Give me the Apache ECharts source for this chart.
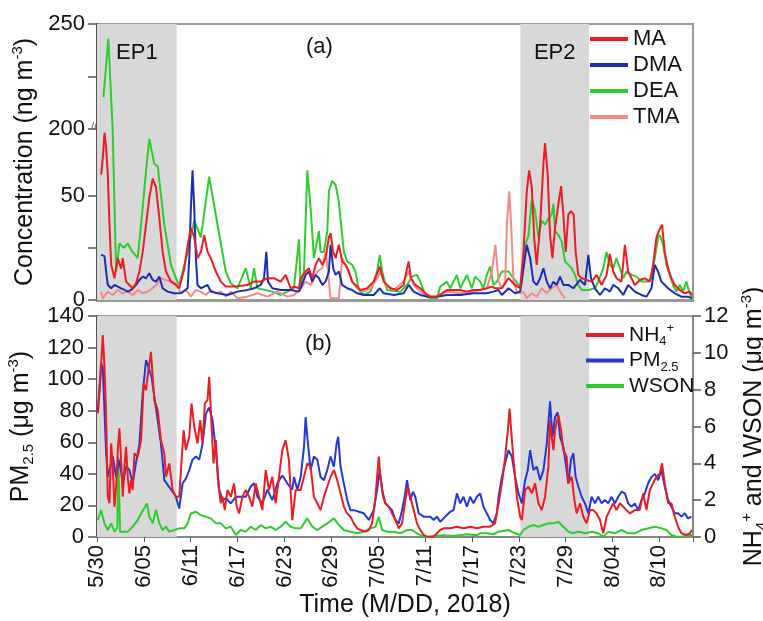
<!DOCTYPE html>
<html><head><meta charset="utf-8">
<script src="https://cdn.jsdelivr.net/npm/echarts@6/dist/echarts.min.js"></script>
<style>html,body{margin:0;padding:0;background:#fff}#c{width:763px;height:621px}</style>
</head><body><div id="c"></div>
<script>
// x values are days since 5/30/2018 00:00
const tickLabels = ['5/30','6/05','6/11','6/17','6/23','6/29','7/05','7/11','7/17','7/23','7/29','8/04','8/10'];
const epNames = ['EP1','EP2'];
const epStart = [0, 54.2];
const epEnd = [10.2, 63.0];

// Panel (a): amines, ng m-3
const MA = [[0.53,60],[0.74,68],[0.96,80],[1.17,73],[1.38,60],[1.6,36],[1.81,17],[2.23,10.4],[2.66,20],[3.09,15],[3.3,20],[3.72,8.8],[4.15,7.2],[4.57,5.6],[5.0,8],[5.43,13.6],[5.85,23],[6.28,36],[6.7,49],[7.13,58],[7.55,54],[7.98,39],[8.4,23],[8.83,13.6],[9.47,8.8],[10.1,7.2],[10.53,5.6],[11.17,15],[11.6,26],[12.02,34.5],[12.45,30],[12.87,20],[13.3,23],[13.72,31],[14.15,23],[14.57,20],[15.21,13.6],[15.85,8.8],[16.49,6.4],[17.55,6.4],[19.26,7.2],[20.1,8.8],[20.96,8.8],[21.81,10.4],[22.66,10.4],[23.51,8.8],[24.15,12],[24.79,5.6],[25.21,6.4],[25.85,5.6],[26.07,10.4],[26.71,13.6],[27.13,15.2],[27.56,10.4],[27.99,16.8],[28.41,20],[28.84,16.8],[29.26,20],[29.69,30],[29.9,32],[30.24,23],[30.54,20],[30.96,26.4],[31.39,18.4],[31.82,16.8],[32.24,13.6],[32.67,8.8],[33.09,7.2],[33.73,4.8],[34.58,5.6],[35.43,8.8],[36.2,16],[36.71,8.8],[37.56,5.6],[38.41,4.8],[39.26,7.2],[39.69,15.2],[39.9,18.4],[40.2,10.4],[40.75,7.2],[41.39,5.6],[42.03,3.2],[42.67,1.6],[43.52,1.6],[44.16,3.2],[44.79,4.8],[45.65,4.8],[46.5,4.8],[47.35,4],[48.2,4.8],[49.05,4.8],[49.9,5.6],[50.56,6.4],[50.98,5.6],[51.83,5.6],[52.68,10.4],[53.53,7.2],[54.17,5.6],[54.6,23],[55.02,52],[55.32,62],[55.66,54],[56.0,28],[56.3,16.8],[56.73,36],[57.15,65],[57.36,75],[57.7,60],[58.0,31],[58.3,20],[58.64,34.5],[59.07,46],[59.41,54.5],[59.7,41],[60.0,23],[60.34,41],[60.68,42.5],[61.02,41],[61.28,23],[61.62,12],[62.05,10.4],[62.68,9.6],[63.32,8.8],[63.96,12],[64.6,7.2],[65.24,12],[65.66,22],[66.09,13.6],[66.51,10.4],[67.15,8.8],[67.58,26.4],[68.0,13.6],[68.43,10.4],[68.85,7.2],[69.49,9.6],[70.13,10.4],[70.77,8.8],[71.19,16.8],[71.62,30],[72.05,34],[72.34,36],[72.68,23],[73.11,15.2],[73.53,10.4],[73.96,7.2],[74.6,4.8],[75.24,3.2],[75.87,4],[76.17,2.4]];
const DMA = [[0.53,21.6],[0.96,21],[1.17,13.6],[1.38,7.2],[1.81,5.6],[2.23,7.2],[2.66,6.4],[3.09,5.6],[3.51,4.8],[3.94,4],[4.36,4.8],[5.0,7.2],[5.43,9.6],[5.85,11.2],[6.28,10.4],[6.7,12.8],[7.13,9.6],[7.55,8.8],[7.98,11.2],[8.4,5.6],[9.04,4],[9.89,3.2],[10.74,3.2],[11.6,5.6],[11.81,20],[12.02,44],[12.23,62],[12.45,44],[12.66,20],[12.87,7.2],[13.3,5.6],[14.15,7.2],[14.57,4],[15.43,3.2],[16.7,2.4],[17.98,4],[19.26,4.8],[20.1,5.6],[20.96,7.2],[21.38,10.4],[21.68,23],[21.89,8.8],[22.45,5.6],[23.51,4.8],[24.79,4.8],[25.85,4],[26.07,5.6],[26.71,12],[27.13,13.6],[27.56,8.8],[27.99,12],[28.41,10.4],[28.84,7.2],[29.26,8.8],[29.69,13.6],[29.9,26.4],[30.24,15.2],[30.54,12],[30.96,13.6],[31.39,7.2],[32.03,5.6],[32.67,4.8],[33.3,3.2],[34.16,2.4],[35.43,2.4],[36.2,5.6],[36.71,3.2],[37.99,2.4],[39.26,3.2],[39.9,7.2],[40.54,4],[41.39,2.4],[42.24,1.6],[43.52,1.6],[44.79,2.4],[46.5,2.4],[48.2,3.2],[49.9,3.2],[50.75,4],[51.39,4.8],[51.83,2.4],[52.68,5.6],[53.53,3.2],[54.17,4],[54.6,15.2],[55.02,26.4],[55.45,20],[55.87,8.8],[56.3,7.2],[56.73,10.4],[57.15,15.2],[57.58,8.8],[58.0,5.6],[58.43,8.8],[58.85,7.2],[59.28,11.2],[59.7,7.2],[60.34,7.2],[60.98,5.6],[61.83,9.6],[62.47,7.2],[62.9,21.6],[63.24,10.4],[63.75,5.6],[64.39,2.4],[65.02,5.6],[65.66,4],[66.09,7.2],[66.73,5.6],[67.37,2.4],[68.0,7.2],[68.85,4],[69.7,2.4],[70.34,1.6],[70.98,5.6],[71.41,16.8],[71.83,13.6],[72.26,8.8],[73.11,5.6],[73.96,3.2],[74.81,1.6],[75.66,1.6],[76.17,0.8]];
const DEA = [[0.83,215],[1.45,243],[2.0,120],[2.45,13.6],[2.87,27],[3.43,25],[3.94,27],[4.36,24],[4.79,22],[5.21,20],[5.85,44],[6.28,62],[6.7,77],[7.34,65],[7.77,64],[8.62,36],[9.47,16.8],[10.1,10.4],[10.53,7.2],[11.6,23],[12.45,38],[13.3,30],[14.36,59],[15.43,36],[16.49,13.6],[17.13,8],[17.98,5.6],[19.04,15.2],[19.68,5.6],[20.1,15.2],[20.53,5.6],[22.45,4],[23.51,2.4],[25.21,5.6],[25.86,29],[26.07,7.2],[26.5,13.6],[26.92,62],[27.35,44],[27.77,20],[28.41,33],[28.62,23],[29.05,23],[29.48,33],[29.69,52],[30.11,57],[30.54,55],[30.96,47],[31.6,23],[32.03,18.4],[32.67,16.8],[33.09,13.6],[33.52,4.8],[34.16,2.4],[35.01,4],[35.86,13.6],[36.2,21.6],[36.5,13.6],[37.14,4.8],[38.84,4],[39.69,7.2],[40.33,11.2],[40.96,12],[41.39,8.8],[42.03,2.4],[42.67,0.8],[43.52,0.8],[43.94,6.4],[44.79,8.8],[45.22,5.6],[46.07,12],[46.5,5.6],[46.92,8.8],[47.35,12],[47.99,5.6],[48.41,11.2],[49.05,8.8],[49.48,5.6],[49.9,12],[50.33,16],[50.75,7.2],[51.19,8.8],[51.83,13.6],[52.68,13.6],[53.32,10.4],[53.96,7.2],[54.39,8],[54.81,26],[55.24,31],[55.66,48],[56.09,42.5],[56.51,30],[56.94,38],[57.36,36],[57.79,39],[58.21,41],[58.43,46],[58.64,33],[59.07,31],[59.49,28],[59.92,18.4],[60.34,16.8],[60.77,15.2],[61.19,12],[61.62,7.2],[62.05,4.8],[62.9,4.8],[63.75,5.6],[64.17,8.8],[64.81,15.2],[65.24,23],[65.66,16.8],[66.09,15.2],[66.51,20],[66.94,15.2],[67.37,10.4],[67.79,13.6],[68.43,12],[69.07,11.2],[69.7,8.8],[70.56,8.8],[70.98,10.4],[71.41,20],[71.83,30],[72.05,31],[72.47,26.4],[72.9,16.8],[73.32,12],[73.75,7.2],[74.17,4],[74.6,7.2],[75.02,4],[75.45,8.8],[75.87,3.2],[76.17,0.8]];
const TMA = [[0.5,4],[0.74,0.8],[1.38,4],[2.02,2.4],[2.66,4.8],[3.3,3.2],[3.94,4],[4.57,2.4],[5.21,4.8],[5.85,3.2],[6.49,4],[7.13,5.6],[7.77,8],[8.19,10.4],[8.83,9.6],[9.47,8.8],[10.1,8],[10.74,3.2],[11.38,4.8],[12.02,1.6],[12.66,4.8],[13.3,4],[13.94,2.4],[14.57,4.8],[15.21,3.2],[15.85,4],[16.49,1.6],[17.13,4],[17.98,0.8],[19.26,1.6],[20.53,3.2],[21.81,1.6],[23.09,4],[24.36,1.6],[25.22,2.4],[26.07,5.6],[26.71,8.8],[27.35,7.2],[28.2,13.6],[28.84,15.2],[29.26,23],[29.48,16.8],[29.9,0.8],[30.33,0.8],[30.96,0.8],[31.39,20],[32.03,15.2],[32.67,8.8],[33.3,5.6],[34.16,4],[35.01,5.6],[35.86,10.4],[36.28,13.6],[36.92,7.2],[37.99,4.8],[39.26,8.8],[39.9,13.6],[40.54,7.2],[41.39,4],[42.24,1.6],[43.52,1.6],[44.79,4],[46.5,3.2],[48.2,4],[49.9,5.6],[50.56,13.6],[51.0,26.4],[51.41,8.8],[51.83,5.6],[52.26,8.8],[52.47,36],[52.77,52],[53.02,36],[53.32,8.8],[53.75,4],[54.17,3.2],[54.6,4],[55.02,0.8],[55.66,3.2],[56.3,1.6],[56.94,5.6],[57.58,3.2],[58.21,5.6],[58.85,7.2],[59.28,4],[59.92,0.8]];

// Panel (b): PM2.5 (left axis) ; NH4+ and WSON (right axis), ug m-3
const PM25 = [[0.11,80],[0.53,110],[0.74,107],[0.96,80],[1.17,53],[1.38,38],[1.6,42.4],[2.02,51],[2.45,38],[2.87,49],[3.3,34],[3.72,44.5],[4.15,42.4],[4.57,34],[5.0,47],[5.43,59],[5.85,91],[6.28,112],[6.7,106],[7.0,101],[7.34,89],[7.77,74],[8.19,59],[8.62,36],[9.04,33],[9.68,28.7],[10.1,25.5],[10.53,18],[10.96,34],[11.38,37],[11.81,42.4],[12.23,49],[12.66,51],[13.09,49],[13.51,59],[13.94,78],[14.36,82],[14.79,74],[15.21,55],[15.64,30],[16.06,23.4],[16.49,24.5],[17.13,21.3],[17.77,25.5],[18.4,25.5],[19.04,25.5],[19.68,32],[20.1,34],[20.53,25.5],[21.17,21.3],[21.81,30],[22.45,23.4],[23.09,34],[23.72,39],[24.36,34],[25.0,30],[25.22,38],[25.65,30],[26.07,38],[26.5,57],[26.71,76],[26.92,63.5],[27.35,42.4],[27.77,51],[28.2,49],[28.62,38],[29.05,36],[29.48,42.4],[29.9,51],[30.33,44.5],[30.67,59],[30.88,63.5],[31.18,44.5],[31.6,34],[32.03,23.4],[32.45,17],[32.88,17],[33.52,16],[34.16,15],[34.79,10.8],[35.43,17],[35.86,30],[36.2,42.4],[36.5,30],[36.92,21.3],[37.35,19.2],[37.77,17],[38.2,10.8],[38.63,8.6],[39.05,17],[39.39,25.5],[39.69,36],[40.11,23.4],[40.45,28.7],[40.75,25.5],[41.18,15],[41.82,12.9],[42.67,12.9],[43.09,10.8],[43.52,12.9],[43.94,9.7],[44.37,11.8],[44.79,14],[45.22,16],[45.65,17],[46.07,27.6],[46.5,21.3],[46.92,25.5],[47.35,19.2],[47.77,25.5],[48.2,21.3],[48.62,25.5],[49.05,27.6],[49.48,19.2],[49.9,15],[50.33,10.8],[50.75,8.6],[51.18,15],[51.41,25.5],[51.83,38],[52.26,47],[52.68,55],[53.11,51],[53.53,38],[53.96,27.6],[54.39,21.3],[54.81,36],[55.15,42.4],[55.45,55],[55.87,42.4],[56.3,44.5],[56.73,36],[57.15,42.4],[57.58,59],[58.0,86],[58.3,63.5],[58.64,76],[58.98,79],[59.28,63.5],[59.7,57],[60.0,47],[60.34,34],[60.68,49],[60.98,53],[61.28,38],[61.62,32],[62.05,25.5],[62.47,21.3],[62.9,15],[63.32,25.5],[63.75,21.3],[64.17,25.5],[64.6,21.3],[65.02,23.4],[65.45,21.3],[65.87,25.5],[66.3,21.3],[66.73,25.5],[67.15,28.7],[67.58,27.6],[68.0,21.3],[68.43,19.2],[68.85,21.3],[69.28,17],[69.7,23.4],[70.13,27.6],[70.56,34],[70.98,38],[71.41,40],[71.83,36],[72.26,42.4],[72.68,32],[73.11,23.4],[73.53,19.2],[73.96,15],[74.39,15],[74.81,12.9],[75.24,15],[75.66,11.8],[76.09,12.9]];
const NH4 = [[0.11,6.71],[0.45,8.7],[0.74,10.96],[0.96,9.24],[1.17,6.53],[1.38,2.19],[1.6,1.83],[1.81,5.08],[2.02,3.82],[2.23,1.65],[2.45,2.73],[2.66,4.72],[2.87,5.9],[3.09,4.18],[3.3,2.19],[3.51,3.82],[3.72,4.9],[3.94,3.27],[4.15,2.37],[4.36,3.09],[4.57,2.55],[4.79,4.54],[5.21,4.36],[5.64,5.26],[5.98,8.34],[6.28,7.97],[6.57,9.06],[6.91,10.05],[7.13,8.7],[7.34,7.43],[7.77,6.89],[8.19,5.26],[8.62,4.54],[8.83,3.27],[9.26,4.0],[9.68,2.55],[10.1,2.19],[10.53,2.19],[10.83,4.18],[11.09,5.8],[11.38,4.72],[11.81,5.44],[12.1,7.25],[12.45,6.0],[12.87,5.08],[13.21,6.35],[13.51,5.08],[13.81,7.25],[14.15,7.43],[14.36,8.7],[14.57,6.89],[14.91,4.0],[15.21,5.26],[15.51,2.91],[15.85,1.83],[16.06,2.19],[16.36,1.46],[16.7,2.55],[17.13,2.19],[17.55,2.91],[17.89,1.65],[18.19,1.28],[18.62,2.19],[19.04,2.55],[19.47,2.19],[19.89,1.65],[20.32,2.91],[20.74,2.19],[21.17,1.46],[21.6,3.63],[22.02,2.55],[22.45,3.27],[22.87,1.83],[23.3,3.27],[23.72,4.72],[24.15,5.26],[24.57,4.18],[25.0,0.92],[25.43,2.55],[26.07,2.55],[26.5,3.27],[26.92,4.0],[27.35,3.82],[27.77,2.19],[28.2,1.83],[28.62,1.46],[29.05,2.19],[29.48,2.73],[29.9,3.27],[30.33,3.63],[30.75,3.09],[31.18,2.37],[31.6,1.65],[32.03,1.28],[32.45,1.1],[32.88,0.74],[33.3,0.47],[33.73,0.38],[34.37,0.29],[34.79,0.38],[35.22,0.74],[35.65,2.19],[36.07,4.36],[36.28,3.27],[36.62,2.19],[36.92,1.83],[37.35,1.65],[37.77,1.28],[38.2,0.92],[38.63,0.47],[39.05,0.74],[39.48,2.01],[39.78,2.73],[40.11,2.19],[40.54,1.46],[40.96,0.74],[41.39,0.38],[41.82,0.11],[42.24,0.02],[43.09,0.02],[43.52,0.2],[43.94,0.38],[44.37,0.47],[45.22,0.47],[46.07,0.56],[46.92,0.47],[47.77,0.56],[48.62,0.47],[49.48,0.56],[50.33,0.56],[50.96,0.74],[51.41,1.83],[51.83,2.91],[52.26,4.36],[52.6,5.8],[52.81,6.98],[53.02,5.8],[53.32,4.18],[53.75,2.19],[54.17,1.1],[54.39,0.92],[54.81,2.55],[55.24,2.73],[55.66,2.37],[56.09,2.91],[56.51,1.83],[56.94,1.46],[57.36,2.19],[57.79,3.82],[58.0,6.35],[58.21,5.44],[58.43,4.72],[58.64,5.8],[59.07,6.62],[59.41,5.8],[59.7,4.72],[60.13,4.36],[60.34,2.91],[60.77,3.27],[61.11,2.01],[61.41,1.28],[61.83,1.83],[62.26,1.1],[62.68,0.74],[63.11,1.46],[63.53,1.46],[63.96,1.28],[64.39,0.92],[64.81,0.2],[65.24,1.1],[65.66,1.46],[66.09,1.83],[66.51,1.46],[66.94,1.83],[67.37,1.65],[67.79,1.46],[68.22,1.28],[68.85,1.46],[69.49,1.46],[69.92,2.37],[70.34,1.46],[70.77,2.55],[71.19,2.91],[71.62,3.27],[72.05,3.45],[72.34,4.0],[72.68,2.91],[73.11,1.83],[73.53,1.83],[73.96,1.1],[74.39,0.56],[74.81,0.2],[75.45,0.11],[75.87,0.2],[76.17,0.38]];
const WSON = [[0.11,0.92],[0.53,1.46],[0.96,0.74],[1.38,0.38],[1.81,0.74],[2.23,0.29],[2.6,0.5],[2.74,4.36],[2.95,0.29],[3.51,0.29],[3.94,0.29],[4.57,0.56],[5.21,0.92],[5.64,1.28],[6.06,1.56],[6.4,1.83],[6.7,1.1],[7.13,0.74],[7.55,1.46],[7.98,0.74],[8.4,0.38],[8.83,0.56],[9.26,0.29],[9.89,0.38],[10.53,0.47],[11.17,0.47],[11.6,0.74],[12.02,1.28],[12.66,1.37],[13.3,1.19],[13.94,1.1],[14.57,1.01],[15.21,0.74],[15.85,0.74],[16.49,0.47],[17.13,0.56],[17.77,0.11],[18.4,0.38],[19.04,0.29],[19.68,0.56],[20.32,0.38],[20.96,0.65],[21.6,0.47],[22.23,0.56],[22.87,0.38],[23.51,0.56],[24.15,0.83],[24.79,0.56],[25.43,0.47],[26.07,0.47],[26.92,1.01],[27.56,0.56],[28.2,0.38],[28.84,0.56],[29.48,0.74],[30.33,1.01],[30.96,0.65],[31.6,0.38],[32.45,0.29],[33.3,0.2],[34.16,0.29],[35.01,0.47],[35.65,0.56],[36.07,1.1],[36.5,0.38],[37.14,0.29],[37.99,0.29],[38.84,0.2],[39.69,0.38],[40.33,0.38],[40.96,0.2],[41.82,0.02],[42.24,0],[43.09,0.05],[44.37,0.1],[45.65,0.05],[47.35,0.15],[48.62,0.1],[49.05,0.2],[49.9,0.2],[50.75,0.15],[51.41,0.29],[52.68,0.38],[53.53,0.2],[54.17,0.11],[54.6,0.38],[55.24,0.56],[55.87,0.65],[56.51,0.56],[57.15,0.65],[57.79,0.74],[58.43,0.74],[59.07,0.83],[59.7,0.56],[60.34,0.29],[60.98,0.2],[61.62,0.29],[62.47,0.2],[63.32,0.29],[64.17,0.2],[64.81,0.02],[65.45,0.29],[66.3,0.2],[67.15,0.38],[68.0,0.2],[68.85,0.2],[69.7,0.38],[70.56,0.47],[71.41,0.56],[72.26,0.47],[72.9,0.38],[73.53,0.11],[74.17,0.02],[74.81,0.02],[75.66,0.11],[76.17,0.11]];

const FONT = "'Liberation Sans', Arial, sans-serif";
const C = {MA:'#ec1c24', DMA:'#1c2db4', DEA:'#2ecc2e', TMA:'#f28a8a', NH4:'#ec1c24', PM:'#2438d8', WSON:'#2ecc2e'};
const chart = echarts.init(document.getElementById('c'), null, {renderer:'canvas'});

function epAreas(withLabel){
  return epNames.map((n,i)=>[{name: withLabel ? n : '', xAxis: epStart[i]}, {xAxis: epEnd[i]}]);
}
function ln(name, data, color, xi, yi, extra){
  return Object.assign({type:'line', name, data, xAxisIndex:xi, yAxisIndex:yi, showSymbol:false, symbol:'none',
    lineStyle:{color, width:2}, itemStyle:{color}, animation:false, silent:true}, extra||{});
}
const rich = {
  b:{fontSize:21, fontFamily:FONT, color:'#111', lineHeight:26},
  sub:{fontSize:13, fontFamily:FONT, color:'#111', verticalAlign:'bottom', lineHeight:14},
  sup:{fontSize:13, fontFamily:FONT, color:'#111', verticalAlign:'top', lineHeight:14},
  n:{fontSize:25, fontFamily:FONT, color:'#111', lineHeight:30},
  ns:{fontSize:15, fontFamily:FONT, color:'#111', verticalAlign:'top', lineHeight:16},
  nb:{fontSize:15, fontFamily:FONT, color:'#111', verticalAlign:'bottom', lineHeight:14}
};
const legendNames = {'NH4+':'{b|NH}{sub|4}{sup|+}', 'PM2.5':'{b|PM}{sub|2.5}', 'WSON':'{b|WSON}'};

const xCommon = {type:'value', min:0, max:76.3, interval:6, splitLine:{show:false}};
const option = {
  animation:false,
  textStyle:{fontFamily:FONT},
  grid:[
    {left:97, right:70, top:24, height:276, show:true, borderColor:'#9a9a9a', borderWidth:2, containLabel:false, outerBoundsMode:'none'},
    {left:97, right:70, top:316, height:221, show:true, borderColor:'#9a9a9a', borderWidth:2, containLabel:false, outerBoundsMode:'none'}
  ],
  xAxis:[
    Object.assign({}, xCommon, {gridIndex:0, axisLine:{lineStyle:{color:'#999', width:3}}, axisTick:{show:false}, axisLabel:{show:false}}),
    Object.assign({}, xCommon, {gridIndex:1,
      axisLine:{lineStyle:{color:'#888', width:2}},
      axisTick:{show:true, length:5, lineStyle:{color:'#555'}},
      axisLabel:{show:true, rotate:90, fontSize:22, color:'#111', fontFamily:FONT, margin:8,
        formatter:v=>{const k=Math.round(v/6); return Math.abs(v-6*k)<1e-6 && tickLabels[k] ? tickLabels[k] : '';}},
      name:'Time (M/DD, 2018)', nameLocation:'middle', nameGap:56,
      nameTextStyle:{fontSize:25, color:'#111', fontFamily:FONT, padding:[0,0,0,20]}})
  ],
  yAxis:[
    {type:'value', gridIndex:0, min:0, max:250, interval:25,
      breaks:[{start:82, end:200, gap:0}],
      breakArea:{show:false},
      breakLabelLayout:{moveOverlap:false},
      axisLine:{show:true, lineStyle:{color:'#555', width:2}},
      axisTick:{show:true, inside:false, length:9, lineStyle:{color:'#555', width:1.5}},
      splitLine:{show:false},
      axisLabel:{fontSize:22, color:'#111', fontFamily:FONT, margin:12,
        formatter:v=>([0,50,200,250].indexOf(Math.round(v))>=0 && Math.abs(v-Math.round(v))<1e-6 ? String(Math.round(v)) : '')},
      name:'{n|Concentration (ng m}{ns|-3}{n|)}', nameLocation:'middle', nameRotate:90, nameGap:48,
      nameTextStyle:{rich}},
    {type:'value', gridIndex:1, min:0, max:140, interval:20,
      axisLine:{show:true, lineStyle:{color:'#555', width:2}},
      axisTick:{show:true, inside:false, length:9, lineStyle:{color:'#555', width:1.5}},
      splitLine:{show:false},
      axisLabel:{fontSize:22, color:'#111', fontFamily:FONT, margin:13},
      name:'{n|PM}{nb|2.5}{n| (μg m}{ns|-3}{n|)}', nameLocation:'middle', nameRotate:90, nameGap:48,
      nameTextStyle:{rich}},
    {type:'value', gridIndex:1, position:'right', min:0, max:12, interval:2,
      axisLine:{show:true, lineStyle:{color:'#888', width:2}},
      axisTick:{show:true, inside:false, length:8, lineStyle:{color:'#555', width:1.5}},
      splitLine:{show:false},
      axisLabel:{fontSize:22, color:'#111', fontFamily:FONT, margin:11},
      name:'{n|NH}{nb|4}{ns|+}{n| and WSON (μg m}{ns|-3}{n|)}', nameLocation:'middle', nameRotate:90, nameGap:27,
      nameTextStyle:{rich}}
  ],
  legend:[
    {data:['MA','DMA','DEA','TMA'], orient:'vertical', left:590, top:28, icon:'rect', itemWidth:38, itemHeight:4, itemGap:4,
      padding:0, textStyle:{fontSize:22, color:'#111', fontFamily:FONT}, selectedMode:false},
    {data:['NH4+','PM2.5','WSON'], orient:'vertical', left:586, top:322, icon:'rect', itemWidth:38, itemHeight:4, itemGap:2,
      padding:0, formatter:n=>legendNames[n], textStyle:{fontSize:21, color:'#111', fontFamily:FONT, rich}, selectedMode:false}
  ],
  series:[
    ln('DEA', DEA, C.DEA, 0, 0, {markArea:{silent:true, itemStyle:{color:'#d8d8d8'},
      label:{show:true, position:'insideTop', distance:18, fontSize:22, color:'#111', fontFamily:FONT},
      data:epAreas(true)}}),
    ln('TMA', TMA, C.TMA, 0, 0),
    ln('DMA', DMA, C.DMA, 0, 0),
    ln('MA', MA, C.MA, 0, 0),
    ln('WSON', WSON, C.WSON, 1, 2, {markArea:{silent:true, itemStyle:{color:'#d8d8d8'}, label:{show:false}, data:epAreas(false)}}),
    ln('PM2.5', PM25, C.PM, 1, 1),
    ln('NH4+', NH4, C.NH4, 1, 2)
  ],
  graphic:[
    {type:'text', left:306, top:36, style:{text:'(a)', fontSize:22, fill:'#111', fontFamily:FONT}},
    {type:'text', left:305, top:333, style:{text:'(b)', fontSize:22, fill:'#111', fontFamily:FONT}},
    {type:'text', left:91, top:121, style:{text:'//', fontSize:11, fill:'#555', fontFamily:FONT}}
  ]
};
chart.setOption(option);
</script></body></html>
